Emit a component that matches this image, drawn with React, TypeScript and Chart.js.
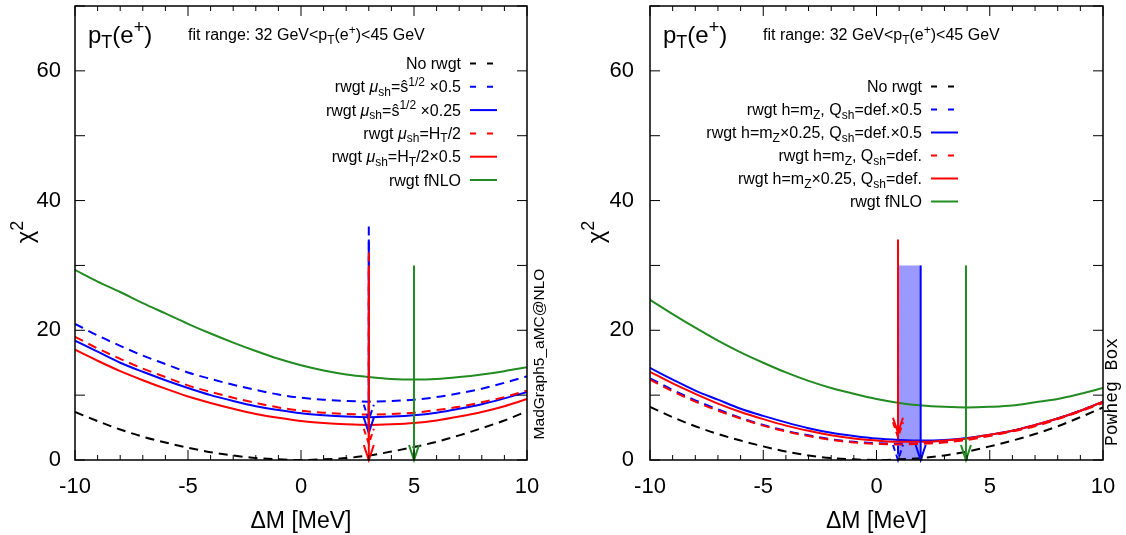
import React, { useEffect, useRef } from 'react';
import { Chart, registerables } from 'chart.js';

Chart.register(...registerables);

const FONT = '"Liberation Sans", Arial, Helvetica, sans-serif';
const MONO = '"Liberation Mono", "Courier New", monospace';

// ---------- data ----------
const deltaM = [-10, -9, -8, -7, -6, -5, -4, -3, -2, -1, 0, 1, 2, 3, 4, 5, 6, 7, 8, 9, 10];

// left panel (MadGraph5_aMC@NLO)
const L_noRwgt = [7.4, 6.0, 4.7, 3.6, 2.7, 1.9, 1.2, 0.7, 0.3, 0.1, 0.0, 0.1, 0.3, 0.7, 1.3, 2.0, 2.8, 3.8, 4.9, 6.1, 7.5];
const L_shat05 = [21.0, 19.2, 17.6, 16.1, 14.8, 13.5, 12.5, 11.6, 10.8, 10.1, 9.6, 9.3, 9.1, 9.0, 9.1, 9.3, 9.7, 10.3, 11.0, 11.9, 12.9];
const L_shat025 = [18.4, 16.7, 15.0, 13.6, 12.3, 11.1, 10.0, 9.1, 8.3, 7.7, 7.2, 6.9, 6.7, 6.6, 6.7, 6.9, 7.3, 7.9, 8.6, 9.5, 10.5];
const L_ht2 = [19.0, 17.2, 15.6, 14.1, 12.8, 11.5, 10.5, 9.6, 8.8, 8.1, 7.6, 7.3, 7.1, 7.0, 7.1, 7.3, 7.7, 8.2, 8.9, 9.7, 10.7];
const L_ht205 = [17.0, 15.3, 13.7, 12.3, 11.0, 9.8, 8.8, 7.9, 7.1, 6.5, 6.0, 5.7, 5.5, 5.4, 5.5, 5.7, 6.1, 6.7, 7.4, 8.3, 9.4];
const L_fNLO = [29.3, 27.5, 25.9, 24.2, 22.6, 21.0, 19.5, 18.1, 16.8, 15.6, 14.6, 13.8, 13.2, 12.8, 12.5, 12.4, 12.5, 12.8, 13.2, 13.7, 14.3];

const L_arrowX = [3, 3, 3, 3, 5];
const L_arrowTop = [36, 34, 32, 30, 30];
const L_arrowTip = [6.2, 4.2, 2.5, 0, 0];
const L_arrowSeries = [1, 2, 3, 4, 5];

// right panel (Powheg Box)
const R_noRwgt = [8.2, 6.6, 5.2, 4.0, 3.0, 2.1, 1.3, 0.7, 0.3, 0.1, 0.0, 0.1, 0.3, 0.7, 1.3, 2.1, 3.0, 4.0, 5.2, 6.6, 8.1];
const R_mz05 = [12.6, 10.8, 9.2, 7.8, 6.5, 5.4, 4.5, 3.8, 3.2, 2.8, 2.6, 2.5, 2.6, 2.8, 3.2, 3.8, 4.5, 5.3, 6.4, 7.6, 8.9];
const R_mz025_05 = [14.2, 12.4, 10.7, 9.3, 7.9, 6.8, 5.8, 4.9, 4.2, 3.7, 3.3, 3.1, 3.0, 3.1, 3.4, 3.9, 4.5, 5.4, 6.4, 7.6, 9.0];
const R_mzDef = [12.4, 10.6, 9.0, 7.6, 6.4, 5.3, 4.4, 3.7, 3.1, 2.7, 2.5, 2.4, 2.5, 2.7, 3.1, 3.7, 4.4, 5.2, 6.3, 7.5, 8.8];
const R_mz025Def = [13.6, 11.8, 10.2, 8.7, 7.4, 6.3, 5.3, 4.5, 3.8, 3.3, 3.0, 2.8, 2.8, 3.0, 3.3, 3.9, 4.5, 5.4, 6.4, 7.6, 9.0];
const R_fNLO = [24.7, 22.5, 20.4, 18.4, 16.6, 15.0, 13.5, 12.2, 11.1, 10.2, 9.4, 8.8, 8.4, 8.2, 8.1, 8.2, 8.4, 8.9, 9.4, 10.2, 11.1];

const R_arrowX = [0.95, 1.95, 0.95, 0.95, 3.95];
const R_arrowTop = [30, 30, 33, 34, 30];
const R_arrowTip = [0, 0, 3.5, 4.2, 0];
const R_arrowSeries = [1, 2, 3, 4, 5];
const R_bandX = [0.95, 1.95];
const R_bandTop = 30;

// axes
const xTickLabels = [-10, -5, 0, 5, 10];
const xMinorTicks = [-10, -9, -8, -7, -6, -5, -4, -3, -2, -1, 0, 1, 2, 3, 4, 5, 6, 7, 8, 9, 10];
const yTickLabels = [0, 20, 40, 60];
const yMinorTicks = [0, 10, 20, 30, 40, 50, 60, 70];

// styles
const seriesColors = ['#000000', '#0000ff', '#0000ff', '#ff0000', '#ff0000', '#228b22'];
const seriesDashed = [true, true, false, true, false, false];

type Kind = 'n' | 'i' | 'b' | 'p';
type Seg = [string, Kind];

const titleSegs: Seg[] = [['p', 'n'], ['T', 'b'], ['(e', 'n'], ['+', 'p'], [')', 'n']];
const fitSegs: Seg[] = [['fit range: 32 GeV<p', 'n'], ['T', 'b'], ['(e', 'n'], ['+', 'p'], [')<45 GeV', 'n']];
const chiSegs: Seg[] = [['χ', 'n'], ['2', 'p']];

const L_legend: Seg[][] = [
  [['No rwgt', 'n']],
  [['rwgt ', 'n'], ['μ', 'i'], ['sh', 'b'], ['=ŝ', 'n'], ['1/2', 'p'], [' ×0.5', 'n']],
  [['rwgt ', 'n'], ['μ', 'i'], ['sh', 'b'], ['=ŝ', 'n'], ['1/2', 'p'], [' ×0.25', 'n']],
  [['rwgt ', 'n'], ['μ', 'i'], ['sh', 'b'], ['=H', 'n'], ['T', 'b'], ['/2', 'n']],
  [['rwgt ', 'n'], ['μ', 'i'], ['sh', 'b'], ['=H', 'n'], ['T', 'b'], ['/2×0.5', 'n']],
  [['rwgt fNLO', 'n']],
];
const R_legend: Seg[][] = [
  [['No rwgt', 'n']],
  [['rwgt h=m', 'n'], ['Z', 'b'], [', Q', 'n'], ['sh', 'b'], ['=def.×0.5', 'n']],
  [['rwgt h=m', 'n'], ['Z', 'b'], ['×0.25, Q', 'n'], ['sh', 'b'], ['=def.×0.5', 'n']],
  [['rwgt h=m', 'n'], ['Z', 'b'], [', Q', 'n'], ['sh', 'b'], ['=def.', 'n']],
  [['rwgt h=m', 'n'], ['Z', 'b'], ['×0.25, Q', 'n'], ['sh', 'b'], ['=def.', 'n']],
  [['rwgt fNLO', 'n']],
];

// ---------- rich text ----------
function segFont(kind: Kind, size: number) {
  const s = kind === 'b' || kind === 'p' ? size * 0.75 : size;
  return `${kind === 'i' ? 'italic ' : ''}${s}px ${FONT}`;
}
function richWidth(ctx: CanvasRenderingContext2D, segs: Seg[], size: number) {
  let w = 0;
  for (const [t, k] of segs) {
    ctx.font = segFont(k, size);
    w += ctx.measureText(t).width;
  }
  return w;
}
function drawRich(ctx: CanvasRenderingContext2D, segs: Seg[], x: number, y: number, size: number, align: 'left' | 'right' | 'center') {
  const w = richWidth(ctx, segs, size);
  let cx = align === 'right' ? x - w : align === 'center' ? x - w / 2 : x;
  ctx.textAlign = 'left';
  ctx.textBaseline = 'alphabetic';
  for (const [t, k] of segs) {
    ctx.font = segFont(k, size);
    const dy = k === 'b' ? size * 0.22 : k === 'p' ? -size * 0.4 : 0;
    ctx.fillText(t, cx, y + dy);
    cx += ctx.measureText(t).width;
  }
}

interface PanelCfg {
  series: number[][];
  arrowX: number[];
  arrowTop: number[];
  arrowTip: number[];
  arrowSeries: number[];
  bandX?: number[];
  bandTop?: number;
  legend: Seg[][];
  legendRight: number;
  legendBase: number;
  legendStep: number;
  padLeft: number;
  padRight: number;
  yTickPad: number;
  chiX: number;
  sideText: string;
  sideFont: string;
  sideX: number;
  sideY: number;
}

const leftCfg: PanelCfg = {
  series: [L_noRwgt, L_shat05, L_shat025, L_ht2, L_ht205, L_fNLO],
  arrowX: L_arrowX, arrowTop: L_arrowTop, arrowTip: L_arrowTip, arrowSeries: L_arrowSeries,
  legend: L_legend, legendRight: 386, legendBase: 69, legendStep: 23.3,
  padLeft: 0, padRight: 36, yTickPad: 14, chiX: -42.4,
  sideText: 'MadGraph5_aMC@NLO', sideFont: `15.5px ${FONT}`, sideX: 17, sideY: 354,
};
const rightCfg: PanelCfg = {
  series: [R_noRwgt, R_mz05, R_mz025_05, R_mzDef, R_mz025Def, R_fNLO],
  arrowX: R_arrowX, arrowTop: R_arrowTop, arrowTip: R_arrowTip, arrowSeries: R_arrowSeries,
  bandX: R_bandX, bandTop: R_bandTop,
  legend: R_legend, legendRight: 272, legendBase: 92, legendStep: 23,
  padLeft: 12, padRight: 23, yTickPad: 16, chiX: -46,
  sideText: 'Powheg Box', sideFont: `18px ${MONO}`, sideX: 14, sideY: 392,
};

function line(ctx: CanvasRenderingContext2D, x0: number, y0: number, x1: number, y1: number) {
  ctx.beginPath();
  ctx.moveTo(x0, y0);
  ctx.lineTo(x1, y1);
  ctx.stroke();
}

function makePlugin(cfg: PanelCfg) {
  return {
    id: 'decor',
    afterDatasetsDraw(chart: any) {
      const ctx: CanvasRenderingContext2D = chart.ctx;
      const xs = chart.scales.x;
      const ys = chart.scales.y;
      cfg.arrowX.forEach((ax, i) => {
        const s = cfg.arrowSeries[i];
        const px = xs.getPixelForValue(ax);
        const y0 = ys.getPixelForValue(cfg.arrowTop[i]);
        const y1 = ys.getPixelForValue(cfg.arrowTip[i]);
        ctx.save();
        ctx.strokeStyle = seriesColors[s];
        ctx.lineWidth = 2;
        ctx.setLineDash(seriesDashed[s] ? [9, 6] : []);
        line(ctx, px, y0, px, y1);
        ctx.setLineDash(seriesDashed[s] ? [6, 4] : []);
        ctx.beginPath();
        ctx.moveTo(px - 5, y1 - 15);
        ctx.lineTo(px, y1);
        ctx.lineTo(px + 5, y1 - 15);
        ctx.stroke();
        ctx.restore();
      });
    },
    afterDraw(chart: any) {
      const ctx: CanvasRenderingContext2D = chart.ctx;
      const xs = chart.scales.x;
      const ys = chart.scales.y;
      const { left, right, top, bottom } = chart.chartArea;
      ctx.save();
      ctx.strokeStyle = '#000';
      ctx.setLineDash([]);
      ctx.lineWidth = 1;
      xMinorTicks.forEach((v) => {
        const px = xs.getPixelForValue(v);
        const len = xTickLabels.includes(v) ? 10 : 5;
        line(ctx, px, bottom, px, bottom - len);
        line(ctx, px, top, px, top + len);
      });
      yMinorTicks.forEach((v) => {
        const py = ys.getPixelForValue(v);
        line(ctx, left, py, left + 10, py);
        line(ctx, right, py, right - 10, py);
      });
      ctx.lineWidth = 1.5;
      ctx.strokeRect(left, top, right - left, bottom - top);

      ctx.fillStyle = '#000';
      drawRich(ctx, titleSegs, left + 13, 43, 24, 'left');
      drawRich(ctx, fitSegs, left + 113, 40, 16, 'left');

      // legend
      const tx = left + cfg.legendRight;
      cfg.legend.forEach((segs, i) => {
        const base = cfg.legendBase + i * cfg.legendStep;
        ctx.fillStyle = '#000';
        drawRich(ctx, segs, tx, base, 16, 'right');
        ctx.strokeStyle = seriesColors[i];
        ctx.lineWidth = 2;
        ctx.setLineDash(seriesDashed[i] ? [6, 11] : []);
        line(ctx, tx + 9, base - 5.5, tx + 36, base - 5.5);
        ctx.setLineDash([]);
      });

      // y title
      ctx.save();
      ctx.fillStyle = '#000';
      ctx.translate(left + cfg.chiX, 232);
      ctx.rotate(-Math.PI / 2);
      drawRich(ctx, chiSegs, 0, 0, 24, 'center');
      ctx.restore();

      // side label
      ctx.save();
      ctx.fillStyle = '#000';
      ctx.font = cfg.sideFont;
      ctx.textAlign = 'center';
      ctx.textBaseline = 'alphabetic';
      ctx.translate(right + cfg.sideX, cfg.sideY);
      ctx.rotate(-Math.PI / 2);
      ctx.fillText(cfg.sideText, 0, 0);
      ctx.restore();
      ctx.restore();
    },
  };
}

function zeroPad(s: any) {
  s.paddingTop = 0;
  s.paddingBottom = 0;
  s.paddingLeft = 0;
  s.paddingRight = 0;
}

function Panel({ cfg, x }: { cfg: PanelCfg; x: number }) {
  const ref = useRef<HTMLCanvasElement>(null);
  useEffect(() => {
    if (!ref.current) return;
    const datasets: any[] = cfg.series.map((arr, i) => ({
      data: deltaM.map((dx, j) => ({ x: dx, y: arr[j] })),
      borderColor: seriesColors[i],
      borderWidth: 2,
      borderDash: seriesDashed[i] ? [9, 6] : [],
      pointRadius: 0,
      fill: false,
      cubicInterpolationMode: 'monotone',
      order: 10 - i,
    }));
    if (cfg.bandX && cfg.bandTop !== undefined) {
      datasets.push({
        data: cfg.bandX.map((bx) => ({ x: bx, y: cfg.bandTop })),
        borderColor: 'rgba(0,0,0,0)',
        borderWidth: 0,
        backgroundColor: 'rgba(0,0,255,0.4)',
        fill: 'origin',
        pointRadius: 0,
        order: 20,
      });
    }
    const chart = new Chart(ref.current, {
      type: 'line',
      data: { datasets },
      options: {
        responsive: false,
        animation: false,
        devicePixelRatio: 1,
        layout: { padding: { left: cfg.padLeft, right: cfg.padRight, top: 6, bottom: 0 } },
        plugins: { legend: { display: false }, tooltip: { enabled: false } },
        scales: {
          x: {
            type: 'linear',
            min: -10,
            max: 10,
            afterBuildTicks: (s: any) => {
              s.ticks = xTickLabels.map((v) => ({ value: v }));
            },
            afterFit: (s: any) => {
              s.height = 75;
              zeroPad(s);
            },
            grid: { display: false, drawTicks: false },
            border: { display: false },
            ticks: { font: { family: FONT, size: 22 }, color: '#000', padding: 14, maxRotation: 0, autoSkip: false },
            title: { display: true, text: 'ΔM [MeV]', font: { family: FONT, size: 23 }, color: '#000', padding: 0 },
          },
          y: {
            type: 'linear',
            min: 0,
            max: 70,
            afterBuildTicks: (s: any) => {
              s.ticks = yTickLabels.map((v) => ({ value: v }));
            },
            afterFit: (s: any) => {
              s.width = 75;
              zeroPad(s);
            },
            grid: { display: false, drawTicks: false },
            border: { display: false },
            ticks: { font: { family: FONT, size: 22 }, color: '#000', padding: cfg.yTickPad, autoSkip: false },
          },
        },
      } as any,
      plugins: [makePlugin(cfg) as any],
    });
    return () => chart.destroy();
  }, [cfg]);
  return (
    <canvas
      ref={ref}
      width={563}
      height={535}
      style={{ position: 'absolute', left: x, top: 0, width: 563, height: 535, display: 'block' }}
    />
  );
}

export default function App() {
  return (
    <div style={{ position: 'absolute', left: 0, top: 0, width: 1126, height: 535, background: '#fff' }}>
      <Panel cfg={leftCfg} x={0} />
      <Panel cfg={rightCfg} x={563} />
    </div>
  );
}
